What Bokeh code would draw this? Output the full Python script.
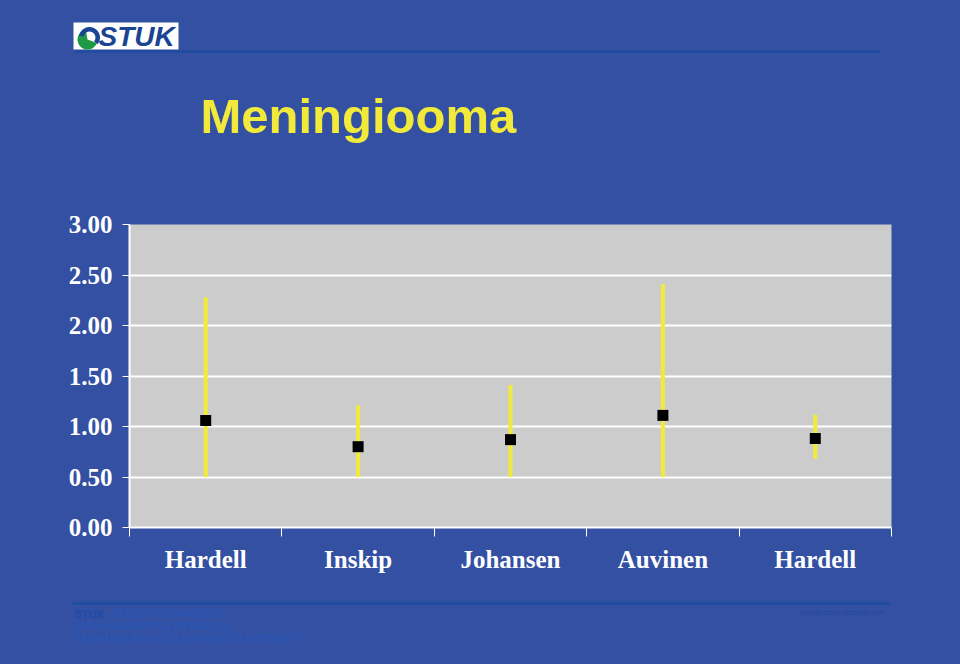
import math
from bokeh.plotting import figure
from bokeh.layouts import column
from bokeh.models import Range1d, FixedTicker, CustomJSTickFormatter, NumeralTickFormatter
from bokeh.core.properties import value
from bokeh.embed import file_html
from bokeh.resources import INLINE

# ---- data ----
categories = ["Hardell", "Inskip", "Johansen", "Auvinen", "Hardell"]
estimate = [1.06, 0.80, 0.87, 1.11, 0.88]
ci_low = [0.50, 0.50, 0.50, 0.50, 0.68]
ci_high = [2.28, 1.21, 1.41, 2.41, 1.12]
y_ticks = [0.0, 0.5, 1.0, 1.5, 2.0, 2.5, 3.0]
title_text = "Meningiooma"
footer_lines = ["STRÅLSÄKERHETSCENTRALEN", "RADIATION AND NUCLEAR SAFETY AUTHORITY"]

BG = "#3350A2"
YELLOW = "#F2EA3A"
LINE_BLUE = "#1E4B9E"
FOOT_TXT = "#2758BC"

W = 960

def deco_fig(h):
    f = figure(width=W, height=h, x_range=Range1d(0, W), y_range=Range1d(0, h),
               output_backend="svg", toolbar_location=None,
               x_axis_location=None, y_axis_location=None,
               min_border=0, background_fill_color=BG, border_fill_color=BG,
               outline_line_color=None, frame_align=False)
    f.xgrid.visible = False
    f.ygrid.visible = False
    return f

# ---- header ----
TH = 200
top = deco_fig(TH)
Y = lambda py: TH - py
top.quad(left=[73], right=[178], top=[Y(22)], bottom=[Y(49)], fill_color="white", line_color=None)
top.wedge(x=[87], y=[Y(39)], radius=10, start_angle=math.radians(100), end_angle=math.radians(340),
          fill_color="#1E9A46", line_color=None)
top.annular_wedge(x=[89], y=[Y(37)], inner_radius=6, outer_radius=10.5,
                  start_angle=math.radians(-40), end_angle=math.radians(170),
                  fill_color="#1B4592", line_color=None)
top.text(x=[98], y=[Y(36)], text=["STUK"], text_font=value("Liberation Sans"),
         text_font_style="bold italic", text_font_size="28px", text_color="#1B4592",
         text_baseline="middle", text_align="left")
top.segment(x0=[75], y0=[Y(51)], x1=[880], y1=[Y(51)], line_color=LINE_BLUE, line_width=2.5)
top.text(x=[200], y=[Y(115)], text=[title_text], text_font=value("Liberation Sans"),
         text_font_style="bold", text_font_size="49px", text_color=YELLOW,
         text_baseline="middle", text_align="left")

# ---- main chart ----
xs = [i + 0.5 for i in range(len(categories))]
p = figure(width=W, height=400, x_range=Range1d(0, len(categories)), y_range=Range1d(0, 3),
           output_backend="svg", toolbar_location=None,
           min_border_left=129, min_border_right=69, min_border_top=24, min_border_bottom=73,
           background_fill_color="#CCCCCC", border_fill_color=BG, outline_line_color=None,
           frame_align=False)
p.xgrid.visible = False
p.ygrid.grid_line_color = "white"
p.ygrid.grid_line_width = 2

p.segment(x0=xs, y0=ci_low, x1=xs, y1=ci_high, line_color=YELLOW, line_width=4)
p.scatter(x=xs, y=estimate, marker="square", size=11, fill_color="black", line_color=None)

ya = p.yaxis[0]
ya.ticker = FixedTicker(ticks=y_ticks, minor_ticks=[])
ya.formatter = NumeralTickFormatter(format="0.00")
ya.axis_line_color = "white"
ya.axis_line_width = 2
ya.major_tick_line_color = "white"
ya.major_tick_out = 7
ya.major_tick_in = 0
ya.major_label_standoff = 10
ya.major_label_text_color = "white"
ya.major_label_text_font = "Liberation Serif"
ya.major_label_text_font_style = "bold"
ya.major_label_text_font_size = "25px"

xa = p.xaxis[0]
xa.ticker = FixedTicker(ticks=xs, minor_ticks=list(range(len(categories) + 1)))
xa.formatter = CustomJSTickFormatter(args=dict(names=categories),
                                     code="return names[Math.floor(tick)];")
xa.axis_line_color = "white"
xa.axis_line_width = 2
xa.major_tick_line_color = None
xa.minor_tick_line_color = "white"
xa.minor_tick_out = 9
xa.minor_tick_in = 0
xa.major_label_standoff = 9
xa.major_label_text_color = "white"
xa.major_label_text_font = "Liberation Serif"
xa.major_label_text_font_style = "bold"
xa.major_label_text_font_size = "25px"

# ---- footer ----
FH = 64
foot = deco_fig(FH)
F = lambda py: FH - (py - 600)
foot.segment(x0=[72], y0=[F(603)], x1=[890], y1=[F(603)], line_color=LINE_BLUE, line_width=2.5)
foot.text(x=[74], y=[F(613)], text=["STUK"], text_font=value("Liberation Sans"),
          text_font_style="bold", text_font_size="11px", text_color="#1F4BA8",
          text_baseline="middle", text_align="left")
foot.text(x=[105], y=[F(613)], text=["- SÄTEILYTURVAKESKUS"], text_font=value("Liberation Sans"),
          text_font_size="10px", text_color=FOOT_TXT, text_baseline="middle", text_align="left")
foot.text(x=[74, 74], y=[F(626), F(638)], text=footer_lines, text_font=value("Liberation Sans"),
          text_font_size="10px", text_color=FOOT_TXT, text_baseline="middle", text_align="left")
foot.text(x=[883], y=[F(612)], text=["Vaihda tähän esittäjän nimi"], text_font=value("Liberation Sans"),
          text_font_size="7px", text_color="#24489E", text_baseline="middle", text_align="right")

layout = column(top, p, foot, spacing=0, styles={"background-color": BG})
html = file_html(layout, INLINE)
style = "<style>html, body { margin: 0; padding: 0; background: %s; }</style>" % BG
html = html.replace("</head>", style + "</head>", 1)
open("out.html", "w").write(html)
